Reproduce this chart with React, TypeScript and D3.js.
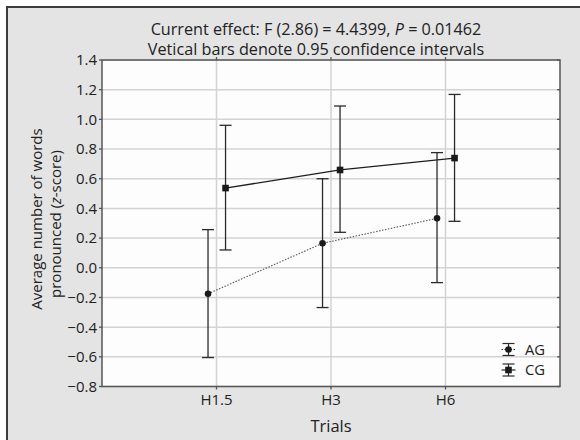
import React from "react";
import * as d3 from "d3";

const trials = ["H1.5", "H3", "H6"];
const agMean = [-0.175, 0.165, 0.333];
const agLower = [-0.605, -0.268, -0.1];
const agUpper = [0.257, 0.6, 0.776];
const cgMean = [0.537, 0.659, 0.739];
const cgLower = [0.12, 0.239, 0.313];
const cgUpper = [0.96, 1.09, 1.168];
const yTicks = [-0.8, -0.6, -0.4, -0.2, 0, 0.2, 0.4, 0.6, 0.8, 1.0, 1.2, 1.4];

const W = 580;
const H = 440;
const L = 102, R = 560, T = 60, B = 386.5;
const FONT = "'Open Sans', 'Noto Sans', sans-serif";

export default function App() {
  const x = d3.scaleLinear().domain([0, 4]).range([L, R]);
  const y = d3.scaleLinear().domain([-0.8, 1.4]).range([B, T]);
  const agOff = -0.074;
  const cgOff = 0.079;
  const cap = 6;

  const agPts: [number, number][] = agMean.map((v, i) => [x(i + 1 + agOff), y(v)]);
  const cgPts: [number, number][] = cgMean.map((v, i) => [x(i + 1 + cgOff), y(v)]);
  const line = d3.line();

  const errBar = (cx: number, lo: number, hi: number, key: string) => (
    <g key={key} stroke="#2a2a2a" strokeWidth={1.3}>
      <line x1={cx} x2={cx} y1={y(lo)} y2={y(hi)} />
      <line x1={cx - cap} x2={cx + cap} y1={y(lo)} y2={y(lo)} />
      <line x1={cx - cap} x2={cx + cap} y1={y(hi)} y2={y(hi)} />
    </g>
  );

  const fmt = (v: number) => {
    const s = Math.abs(v).toFixed(1);
    return v < -1e-9 ? "\u2212" + s : s;
  };

  const legX = 508.5;
  const legAG = 349.5;
  const legCG = 370;

  return (
    <svg width={W} height={H} style={{ position: "absolute", left: 0, top: 0 }} fontFamily={FONT}>
      <rect x={0} y={0} width={W} height={H} fill="#ffffff" />
      <rect x={7} y={7} width={W + 10} height={H + 10} fill="#e4e4e4" stroke="#3c3c3c" strokeWidth={2} />
      <rect x={L} y={T} width={R - L} height={B - T} fill="#fdfdfd" />
      {/* grid */}
      {yTicks.map((t) => (
        <line key={"gy" + t} x1={L} x2={R} y1={y(t)} y2={y(t)} stroke="#d3d3d3" strokeWidth={1.5} />
      ))}
      {trials.map((t, i) => (
        <line key={"gx" + t} x1={x(i + 1)} x2={x(i + 1)} y1={T} y2={B} stroke="#d3d3d3" strokeWidth={1.5} />
      ))}
      {/* frame */}
      <rect x={L} y={T} width={R - L} height={B - T} fill="none" stroke="#555" strokeWidth={1.5} />
      {/* ticks */}
      {yTicks.map((t) => (
        <g key={"ty" + t} stroke="#555" strokeWidth={1.3}>
          <line x1={L - 3} x2={L} y1={y(t)} y2={y(t)} />
          <line x1={R - 3} x2={R} y1={y(t)} y2={y(t)} />
        </g>
      ))}
      {trials.map((t, i) => (
        <g key={"tx" + t} stroke="#555" strokeWidth={1.3}>
          <line x1={x(i + 1)} x2={x(i + 1)} y1={B} y2={B + 3} />
          <line x1={x(i + 1)} x2={x(i + 1)} y1={T - 3} y2={T} />
        </g>
      ))}
      {/* y tick labels */}
      {yTicks.map((t) => (
        <text key={"ly" + t} x={L - 5} y={y(t)} dy="0.36em" textAnchor="end" fontSize={15} fill="#222">
          {fmt(t)}
        </text>
      ))}
      {/* x tick labels */}
      {trials.map((t, i) => (
        <text key={"lx" + t} x={x(i + 1)} y={405} textAnchor="middle" fontSize={15} fill="#222">
          {t}
        </text>
      ))}
      <text x={x(2)} y={432} textAnchor="middle" fontSize={16.5} fill="#222">Trials</text>
      {/* y label */}
      <g transform="translate(42,219) rotate(-90)">
        <text x={0} y={0} textAnchor="middle" fontSize={15} fill="#222">Average number of words</text>
      </g>
      <g transform="translate(61,224) rotate(-90)">
        <text x={0} y={0} textAnchor="middle" fontSize={15} fill="#222">
          pronounced (<tspan fontStyle="italic">z</tspan>-score)
        </text>
      </g>
      {/* title */}
      <text x={316} y={35} textAnchor="middle" fontSize={16.2} fill="#222">
        Current effect: F (2.86) = 4.4399, <tspan fontStyle="italic">P</tspan> = 0.01462
      </text>
      <text x={316} y={55} textAnchor="middle" fontSize={16.2} fill="#222">
        Vetical bars denote 0.95 confidence intervals
      </text>
      {/* series lines */}
      <path d={line(agPts) || ""} fill="none" stroke="#555" strokeWidth={1.1} strokeDasharray="1.5,1.5" />
      <path d={line(cgPts) || ""} fill="none" stroke="#1e1e1e" strokeWidth={1.3} />
      {/* error bars */}
      {agMean.map((_, i) => errBar(agPts[i][0], agLower[i], agUpper[i], "ea" + i))}
      {cgMean.map((_, i) => errBar(cgPts[i][0], cgLower[i], cgUpper[i], "ec" + i))}
      {/* markers */}
      {agPts.map((p, i) => (
        <circle key={"ma" + i} cx={p[0]} cy={p[1]} r={3.3} fill="#1a1a1a" />
      ))}
      {cgPts.map((p, i) => (
        <rect key={"mc" + i} x={p[0] - 3.3} y={p[1] - 3.3} width={6.6} height={6.6} fill="#1a1a1a" />
      ))}
      {/* legend */}
      <g stroke="#2a2a2a" strokeWidth={1.2}>
        <line x1={legX} x2={legX} y1={legAG - 6} y2={legAG + 6} />
        <line x1={legX - 6} x2={legX + 6} y1={legAG - 6} y2={legAG - 6} />
        <line x1={legX - 6} x2={legX + 6} y1={legAG + 6} y2={legAG + 6} />
        <line x1={legX - 7} x2={legX + 7} y1={legAG} y2={legAG} strokeDasharray="1.5,1.5" />
        <line x1={legX} x2={legX} y1={legCG - 6} y2={legCG + 6} />
        <line x1={legX - 6} x2={legX + 6} y1={legCG - 6} y2={legCG - 6} />
        <line x1={legX - 6} x2={legX + 6} y1={legCG + 6} y2={legCG + 6} />
        <line x1={legX - 7} x2={legX + 7} y1={legCG} y2={legCG} />
      </g>
      <circle cx={legX} cy={legAG} r={3.3} fill="#1a1a1a" />
      <rect x={legX - 3.3} y={legCG - 3.3} width={6.6} height={6.6} fill="#1a1a1a" />
      <text x={525} y={legAG} dy="0.36em" fontSize={14.8} fill="#222">AG</text>
      <text x={525} y={legCG} dy="0.36em" fontSize={14.8} fill="#222">CG</text>
    </svg>
  );
}
